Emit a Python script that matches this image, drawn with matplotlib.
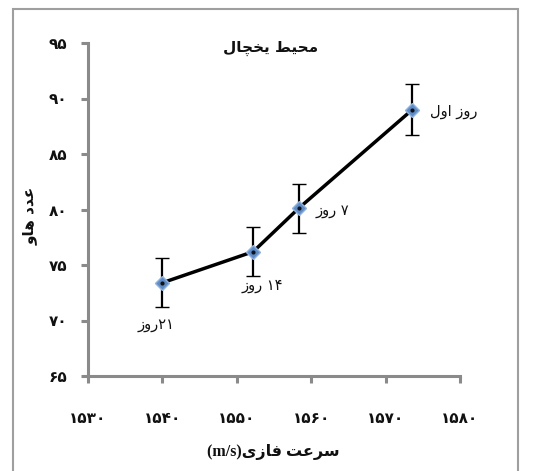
import matplotlib
matplotlib.use("Agg")
import matplotlib.pyplot as plt
from matplotlib.patches import Rectangle

# ---- data ----
speed = [1540.0, 1552.2, 1558.3, 1573.6]          # phase velocity (m/s)
haugh = [73.4, 76.2, 80.1, 89.0]                  # Haugh unit
haugh_err = [2.2, 2.2, 2.2, 2.3]
point_labels = ["۲۱روز", "۱۴ روز", "۷ روز", "روز اول"]
x_ticks = [1530, 1540, 1550, 1560, 1570, 1580]
y_ticks = [65, 70, 75, 80, 85, 90, 95]
title = "محیط یخچال"
x_title = "سرعت فازی(m/s)"
y_title = "عدد هاو"

# ---- minimal Persian shaping (contextual forms + right-to-left order) ----
FORMS = {
    "\u0627": ("\uFE8D", "\uFE8E", None, None),
    "\u062F": ("\uFEA9", "\uFEAA", None, None),
    "\u0631": ("\uFEAD", "\uFEAE", None, None),
    "\u0632": ("\uFEAF", "\uFEB0", None, None),
    "\u0648": ("\uFEED", "\uFEEE", None, None),
    "\u062A": ("\uFE95", "\uFE96", "\uFE97", "\uFE98"),
    "\u062D": ("\uFEA1", "\uFEA2", "\uFEA3", "\uFEA4"),
    "\u062E": ("\uFEA5", "\uFEA6", "\uFEA7", "\uFEA8"),
    "\u0633": ("\uFEB1", "\uFEB2", "\uFEB3", "\uFEB4"),
    "\u0637": ("\uFEC1", "\uFEC2", "\uFEC3", "\uFEC4"),
    "\u0639": ("\uFEC9", "\uFECA", "\uFECB", "\uFECC"),
    "\u0641": ("\uFED1", "\uFED2", "\uFED3", "\uFED4"),
    "\u0644": ("\uFEDD", "\uFEDE", "\uFEDF", "\uFEE0"),
    "\u0645": ("\uFEE1", "\uFEE2", "\uFEE3", "\uFEE4"),
    "\u0647": ("\uFEE9", "\uFEEA", "\uFEEB", "\uFEEC"),
    "\u06CC": ("\uFBFC", "\uFBFD", "\uFBFE", "\uFBFF"),
    "\u0686": ("\uFB7A", "\uFB7B", "\uFB7C", "\uFB7D"),
}


def shape(text):
    out = []
    for i, c in enumerate(text):
        if c not in FORMS:
            out.append(c)
            continue
        prev = text[i - 1] if i > 0 else ""
        nxt = text[i + 1] if i + 1 < len(text) else ""
        join_prev = prev in FORMS and FORMS[prev][2] is not None
        join_next = nxt in FORMS and FORMS[c][2] is not None
        iso, fin, ini, med = FORMS[c]
        if join_prev and join_next:
            out.append(med)
        elif join_prev:
            out.append(fin)
        elif join_next:
            out.append(ini)
        else:
            out.append(iso)
    return "".join(out)


def is_rtl(c):
    o = ord(c)
    return c == " " or (0x0600 <= o <= 0x06EF and not (0x0660 <= o <= 0x0669)) \
        or 0xFB50 <= o <= 0xFDFF or 0xFE70 <= o <= 0xFEFF


def fa(text):
    s = shape(text)
    runs = []
    for c in s:
        r = is_rtl(c)
        if runs and runs[-1][0] == r:
            runs[-1][1].append(c)
        else:
            runs.append([r, [c]])
    parts = []
    for r, chars in reversed(runs):
        parts.append("".join(reversed(chars)) if r else "".join(chars))
    return "".join(parts)


def fa_digits(n):
    return "".join(chr(0x06F0 + int(d)) for d in str(n))


# ---- figure ----
W, H = 533, 471
fig = plt.figure(figsize=(W / 100, H / 100), dpi=100)
fig.patch.set_facecolor("white")

fig.add_artist(Rectangle((13 / W, -0.05), (518 - 13) / W, 1.05 - 9 / H,
                         transform=fig.transFigure, fill=False,
                         edgecolor="#9f9f9f", linewidth=1.5))

ax = fig.add_axes([88 / W, (H - 376) / H, 372 / W, 333 / H])
ax.set_xlim(x_ticks[0], x_ticks[-1])
ax.set_ylim(y_ticks[0], y_ticks[-1])

for side in ("top", "right"):
    ax.spines[side].set_visible(False)
for side in ("left", "bottom"):
    ax.spines[side].set_color("#8a8a8a")
    ax.spines[side].set_linewidth(2.2)

ax.set_xticks(x_ticks)
ax.set_yticks(y_ticks)
ax.set_xticklabels([fa_digits(v) for v in x_ticks])
ax.set_yticklabels([fa_digits(v) for v in y_ticks])
ax.tick_params(axis="both", direction="out", length=5, width=2.2, color="#8a8a8a",
               labelsize=11, labelcolor="#111111")
ax.tick_params(axis="x", pad=20)
ax.tick_params(axis="y", pad=10)
for lab in ax.get_xticklabels() + ax.get_yticklabels():
    lab.set_fontweight("bold")
    lab.set_family("DejaVu Sans")

ax.errorbar(speed, haugh, yerr=haugh_err, color="black", linewidth=2.5,
            ecolor="black", elinewidth=1.6, capsize=5, capthick=1.6,
            marker="D", markersize=7, markerfacecolor="#5b8cc9",
            markeredgecolor="#8fb3e0", markeredgewidth=1.0, zorder=3)
ax.plot(speed, haugh, linestyle="none", marker="o", markersize=2,
        color="#111111", zorder=4)

offsets = [(-6, -42), (9, -34), (34, -2), (41, -2)]
for x, y, lab, (dx, dy) in zip(speed, haugh, point_labels, offsets):
    ax.annotate(fa(lab), (x, y), xytext=(dx, dy), textcoords="offset pixels",
                ha="center", va="center", fontsize=10.5, family="DejaVu Sans",
                color="#111111")

ax.text(0.49, 0.985, fa(title), transform=ax.transAxes, ha="center", va="center",
        fontsize=11, fontweight="bold", family="DejaVu Sans", color="#111111")

fig.text(30 / W, 1 - 216 / H, fa(y_title), rotation=90, ha="center", va="center",
         fontsize=11, fontweight="bold", family="DejaVu Sans", color="#111111")

fig.text(273 / W, 1 - 452 / H, fa(x_title), ha="center", va="center",
         fontsize=11.5, fontweight="bold", family=["Liberation Serif", "DejaVu Sans"],
         color="#111111")

fig.savefig("out.png", dpi=100, facecolor="white")
